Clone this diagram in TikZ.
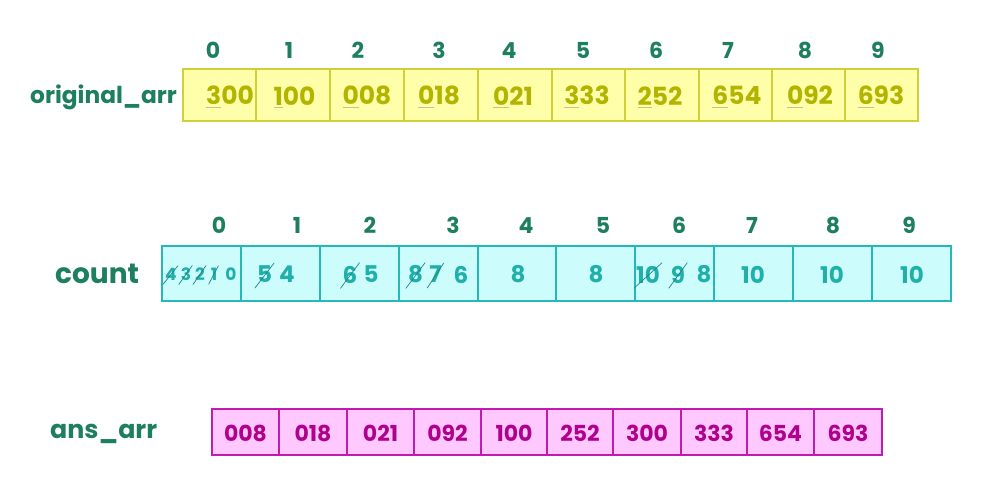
\documentclass[tikz,border=0pt]{standalone}
\usepackage{fontspec}
\setmainfont{Poppins}
\definecolor{lblgreen}{HTML}{1E7F5C}
\definecolor{yfill}{HTML}{FFFFAA}
\definecolor{ydraw}{HTML}{D0D03A}
\definecolor{ytext}{HTML}{B2B400}
\definecolor{yul}{HTML}{C4C48A}
\definecolor{cfill}{HTML}{CCFCFC}
\definecolor{cdraw}{HTML}{26B8B8}
\definecolor{ctext}{HTML}{1FB0AC}
\definecolor{cstrike}{HTML}{1E8585}
\definecolor{mfill}{HTML}{FFC8FF}
\definecolor{mdraw}{HTML}{C21BB5}
\definecolor{mtext}{HTML}{B0008F}
\newcommand\fd[1]{\setbox0=\hbox{#1}\rlap{\smash{\color{yul}\rule[-2.8pt]{\wd0}{0.8pt}}}#1}
\begin{document}
\begin{tikzpicture}[x=1pt,y=-1pt,
  arrlabel/.style={font=\fontsize{23.3}{27}\selectfont\bfseries, text=lblgreen, inner sep=0pt, anchor=base west},
  idx/.style={font=\fontsize{22}{25}\selectfont\bfseries, text=lblgreen, inner sep=0pt},
  ycell/.style={draw=ydraw, fill=yfill, line width=1.6pt, inner sep=0pt},
  ccell/.style={draw=cdraw, fill=cfill, line width=1.6pt, inner sep=0pt},
  mcell/.style={draw=mdraw, fill=mfill, line width=1.6pt, inner sep=0pt},
  yval/.style={font=\fontsize{25}{28}\selectfont\bfseries, text=ytext, inner sep=0pt},
  cval/.style={font=\fontsize{23}{26}\selectfont\bfseries, text=ctext, inner sep=0pt},
  csmall/.style={font=\fontsize{17}{20}\selectfont\bfseries, text=ctext, inner sep=0pt},
  mval/.style={font=\fontsize{22}{25}\selectfont\bfseries, text=mtext, inner sep=0pt},
  strike/.style={draw=cstrike, line width=0.7pt}
]
\useasboundingbox[fill=white] (0,0) rectangle (1000,500);

% ---------- original_arr ----------
\node[arrlabel] (lorig) at (30,103.5) {original\_arr};
\foreach \a/\b [count=\i from 0] in {183/256,256/330,330/404,404/478,478/552,552/625,625/699,699/772,772/845,845/918}{
  \pgfmathsetmacro\cx{(\a+\b)/2}\pgfmathsetmacro\w{\b-\a}
  \node[ycell, minimum width=\w pt, minimum height=52pt] (y\i) at (\cx,95) {};
}
\foreach \x [count=\i from 0] in {213,289,358,439,509,583,656,728,805,878}
  \node[idx] (yi\i) at (\x,50.7) {\i};
\foreach \x/\f/\r [count=\i from 0] in {230/3/00,294.5/1/00,367/0/08,439/0/18,513/0/21,587/3/33,660/2/52,737/6/54,810/0/92,881/6/93}
  \node[yval] (yv\i) at (\x,95.7) {\fd{\f}\r};

% ---------- count ----------
\node[arrlabel, font=\fontsize{28}{31}\selectfont\bfseries] (lcount) at (55,283) {count};
\foreach \a/\b [count=\i from 0] in {162/241,241/320,320/399,399/478,478/556,556/635,635/714,714/793,793/872,872/951}{
  \pgfmathsetmacro\cx{(\a+\b)/2}\pgfmathsetmacro\w{\b-\a}
  \node[ccell, minimum width=\w pt, minimum height=55pt] (c\i) at (\cx,273.5) {};
}
\foreach \x [count=\i from 0] in {219,297,370,453,526,603,679,752,833,909}
  \node[idx] (ci\i) at (\x,225.5) {\i};
% cell 0
\node[csmall] (c0a) at (171,274) {4};
\node[csmall] (c0b) at (186,274) {3};
\node[csmall] (c0c) at (200,274) {2};
\node[csmall] (c0d) at (214,274) {1};
\node[csmall] (c0e) at (231,274) {0};
\foreach \n in {c0a,c0b,c0c,c0d}
  \draw[strike] ([shift={(-2pt,-4pt)}]\n.south west) -- ([shift={(1pt,2pt)}]\n.north east);
% cell 1
\node[cval] (c1a) at (264.5,274.5) {5};
\node[cval] (c1b) at (287,274.5) {4};
% cell 2
\node[cval] (c2a) at (350,274.5) {6};
\node[cval] (c2b) at (371,274.5) {5};
% cell 3
\node[cval] (c3a) at (415.5,274.5) {8};
\node[cval] (c3b) at (435.5,274.5) {7};
\node[cval] (c3c) at (461,274.5) {6};
% cells 4,5
\node[cval] (c4a) at (518,274.5) {8};
\node[cval] (c5a) at (596,274.5) {8};
% cell 6
\node[cval] (c6a) at (648,274.5) {10};
\node[cval] (c6b) at (678,274.5) {9};
\node[cval] (c6c) at (704,274.5) {8};
% cells 7-9
\node[cval] (c7a) at (753,274.5) {10};
\node[cval] (c8a) at (832,274.5) {10};
\node[cval] (c9a) at (912,274.5) {10};
\foreach \n in {c1a,c2a,c3a,c3b,c6a,c6b}
  \draw[strike] ([shift={(-2pt,-5pt)}]\n.south west) -- ([shift={(2pt,3pt)}]\n.north east);

% ---------- ans_arr ----------
\node[arrlabel, font=\fontsize{25.3}{28}\selectfont\bfseries] (lans) at (50,438) {ans\_arr};
\foreach \a/\b/\v [count=\i from 0] in {212/279/008,279/347/018,347/414/021,414/481/092,481/547/100,547/613/252,613/681/300,681/747/333,747/814/654,814/882/693}{
  \pgfmathsetmacro\cx{(\a+\b)/2}\pgfmathsetmacro\w{\b-\a}
  \node[mcell, minimum width=\w pt, minimum height=46pt] (m\i) at (\cx,432) {};
  \node[mval] (mv\i) at (\cx,433.5) {\v};
}
\end{tikzpicture}
\end{document}
